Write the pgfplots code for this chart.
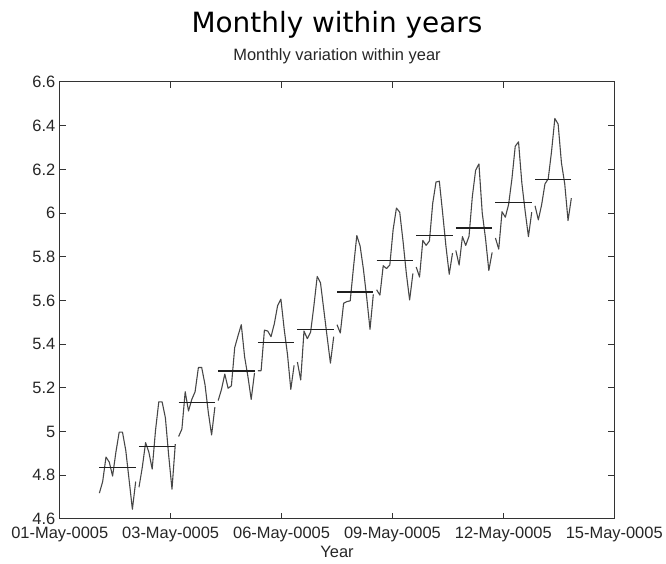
\documentclass[border=0pt]{standalone}
\usepackage{fontspec}
\setmainfont{Liberation Sans}
\newfontfamily\titlefont{DejaVu Sans}
\usepackage{pgfplots}
\usepackage{pgfplotstable}
\pgfplotsset{compat=1.18}

\pgfplotstableread{
t y
0 4.718
1 4.771
2 4.883
3 4.860
4 4.796
5 4.905
6 4.997
7 4.997
8 4.913
9 4.779
10 4.644
11 4.771
11.5 nan
12 4.745
13 4.836
14 4.949
15 4.905
16 4.828
17 5.004
18 5.136
19 5.136
20 5.063
21 4.890
22 4.736
23 4.942
23.5 nan
24 4.977
25 5.011
26 5.182
27 5.094
28 5.147
29 5.182
30 5.293
31 5.293
32 5.215
33 5.088
34 4.984
35 5.112
35.5 nan
36 5.142
37 5.193
38 5.263
39 5.198
40 5.209
41 5.384
42 5.438
43 5.489
44 5.342
45 5.252
46 5.147
47 5.268
47.5 nan
48 5.278
49 5.278
50 5.464
51 5.460
52 5.434
53 5.493
54 5.576
55 5.606
56 5.468
57 5.352
58 5.193
59 5.303
59.5 nan
60 5.318
61 5.236
62 5.460
63 5.425
64 5.455
65 5.576
66 5.710
67 5.680
68 5.557
69 5.434
70 5.313
71 5.434
71.5 nan
72 5.489
73 5.451
74 5.587
75 5.595
76 5.598
77 5.753
78 5.897
79 5.849
80 5.743
81 5.613
82 5.468
83 5.628
83.5 nan
84 5.649
85 5.624
86 5.759
87 5.746
88 5.762
89 5.924
90 6.023
91 6.004
92 5.872
93 5.724
94 5.602
95 5.724
95.5 nan
96 5.753
97 5.707
98 5.875
99 5.852
100 5.872
101 6.045
102 6.142
103 6.146
104 6.001
105 5.849
106 5.720
107 5.817
107.5 nan
108 5.829
109 5.762
110 5.892
111 5.852
112 5.894
113 6.075
114 6.196
115 6.225
116 6.001
117 5.883
118 5.737
119 5.820
119.5 nan
120 5.886
121 5.835
122 6.006
123 5.981
124 6.040
125 6.157
126 6.306
127 6.326
128 6.138
129 6.009
130 5.892
131 6.004
131.5 nan
132 6.033
133 5.969
134 6.038
135 6.133
136 6.157
137 6.282
138 6.433
139 6.407
140 6.230
141 6.133
142 5.966
143 6.068
}\monthly

\pgfplotstableread{
t m
0 4.836
11 4.836
11.5 nan
12 4.931
23 4.931
23.5 nan
24 5.132
35 5.132
35.5 nan
36 5.277
47 5.277
47.5 nan
48 5.409
59 5.409
59.5 nan
60 5.467
71 5.467
71.5 nan
72 5.639
83 5.639
83.5 nan
84 5.784
95 5.784
95.5 nan
96 5.898
107 5.898
107.5 nan
108 5.931
119 5.931
119.5 nan
120 6.048
131 6.048
131.5 nan
132 6.154
143 6.154
}\means

\begin{document}
\begin{tikzpicture}
\begin{axis}[
  scale only axis,
  width=556.5pt, height=438.5pt,
  xmin=-12, xmax=156,
  ymin=4.6, ymax=6.6,
  xtick={-12,21.6,55.2,88.8,122.4,156},
  xticklabels={01-May-0005,03-May-0005,06-May-0005,09-May-0005,12-May-0005,15-May-0005},
  ytick={4.6,4.8,5.0,5.2,5.4,5.6,5.8,6.0,6.2,6.4,6.6},
  yticklabels={4.6,4.8,5,5.2,5.4,5.6,5.8,6,6.2,6.4,6.6},
  tick align=inside,
  tick pos=both,
  major tick length=6pt,
  axis line style={black!80, line width=1pt},
  every tick/.style={black!80, line width=1pt},
  tick label style={font=\fontsize{16.5}{18}\selectfont, text=black!85},
  xticklabel style={anchor=base, yshift=-20pt},
  yticklabel style={xshift=-1pt},
  unbounded coords=jump,
  /pgf/number format/assume math mode=true,
]
\addplot[black!72, line width=1.1pt, line join=round] table[x=t, y=y] {\monthly};
\addplot[black!88, line width=1.3pt] table[x=t, y=m] {\means};
\end{axis}
\node[anchor=base, font=\fontsize{16.5}{18}\selectfont, text=black!85] at ([yshift=22pt]current axis.north) {Monthly variation within year};
\node[anchor=base, font=\fontsize{16.5}{18}\selectfont, text=black!85] at ([yshift=-39pt]current axis.south) {Year};
\node[anchor=base, font=\titlefont\fontsize{28}{32}\selectfont] at ([yshift=50pt]current axis.north) {Monthly within years};
\path ([shift={(-60pt,-45pt)}]current axis.south west) rectangle ([shift={(49.5pt,82.3pt)}]current axis.north east);
\end{tikzpicture}
\end{document}
